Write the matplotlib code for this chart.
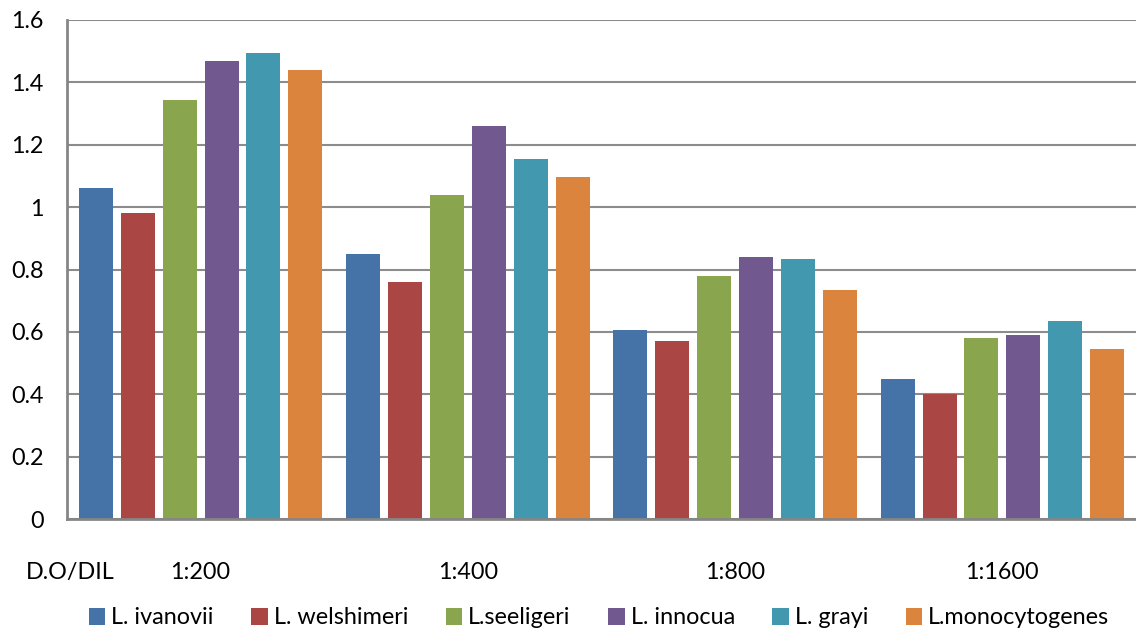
import matplotlib
matplotlib.use("Agg")
import matplotlib.pyplot as plt
import numpy as np

categories = ["1:200", "1:400", "1:800", "1:1600"]
series_names = ["L. ivanovii", "L. welshimeri", "L.seeligeri", "L. innocua", "L. grayi", "L.monocytogenes"]
ivanovii = [1.06, 0.85, 0.605, 0.45]
welshimeri = [0.98, 0.76, 0.57, 0.40]
seeligeri = [1.345, 1.04, 0.78, 0.58]
innocua = [1.47, 1.26, 0.84, 0.59]
grayi = [1.495, 1.155, 0.835, 0.635]
monocytogenes = [1.44, 1.095, 0.735, 0.545]
series = [ivanovii, welshimeri, seeligeri, innocua, grayi, monocytogenes]
colors = ["#4572A7", "#AA4643", "#89A54E", "#71588F", "#4198AF", "#DB843D"]
y_ticks = [0, 0.2, 0.4, 0.6, 0.8, 1.0, 1.2, 1.4, 1.6]
y_labels = ["0", "0.2", "0.4", "0.6", "0.8", "1", "1.2", "1.4", "1.6"]

plt.rcParams['font.family'] = ['Lato', 'DejaVu Sans']
FS = 16.8

fig = plt.figure(figsize=(11.36, 6.33), dpi=100)
ax = fig.add_axes([67/1136, 1-519/633, 1-67/1136, (519-20)/633])

x = np.arange(len(categories))
slot = 42/268
width = 34/268
for i, (vals, name, c) in enumerate(zip(series, series_names, colors)):
    offs = (i - 2.5) * slot
    ax.bar(x + offs, vals, width=width, color=c, label=name, zorder=3)

ax.set_xlim(-0.5, len(categories) - 0.5)
ax.set_ylim(0, 1.6)
ax.set_yticks(y_ticks)
ax.set_yticklabels(y_labels)
ax.set_xticks(x)
ax.set_xticklabels(categories)
ax.tick_params(axis='y', length=0, pad=17, labelsize=FS)
ax.tick_params(axis='x', length=0, pad=31, labelsize=FS)
ax.yaxis.grid(True, color="#8c8c8c", linewidth=1.5, zorder=0)
for s in ["top", "right"]:
    ax.spines[s].set_visible(False)
for s in ["left", "bottom"]:
    ax.spines[s].set_color("#868686")
    ax.spines[s].set_linewidth(2)
    ax.spines[s].set_zorder(4)

fig.text(70/1136, 1-572/633, "D.O/DIL", ha="center", va="center", fontsize=FS)

fig.legend(loc="center", bbox_to_anchor=(599/1136, 1-618/633), ncol=6, frameon=False,
           fontsize=FS, handlelength=0.72, handleheight=0.72, handletextpad=0.25,
           columnspacing=1.6)

fig.savefig("out.png", dpi=100)
